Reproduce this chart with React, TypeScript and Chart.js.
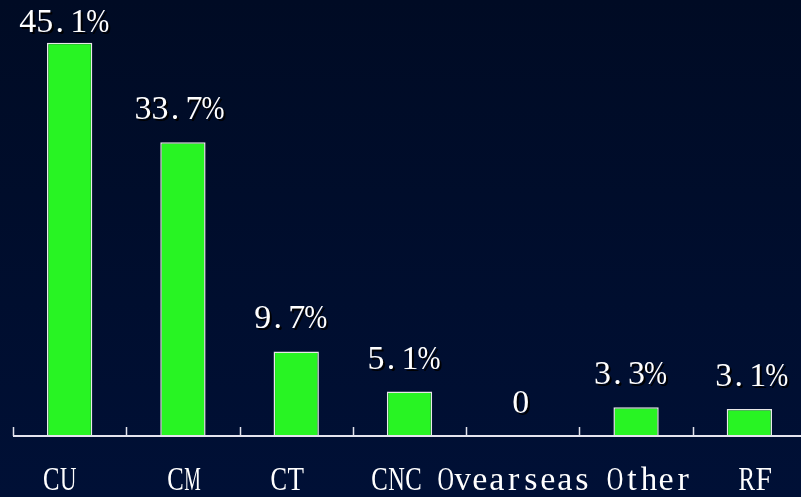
import React, { useEffect, useRef } from "react";
import { Chart, registerables } from "chart.js";

Chart.register(...registerables);

const categories = ["CU", "CM", "CT", "CNC", "Ovearseas", "Other", "RF"];
const shares = [45.1, 33.7, 9.7, 5.1, 0, 3.3, 3.1];
const valueLabels = ["45.1%", "33.7%", "9.7%", "5.1%", "0", "3.3%", "3.1%"];
const yMax = 50;

// small horizontal text nudges (px) seen in the reference's label placement
const categoryLabelNudge = [-10, 1, -9, -13, -9, 13, 6];
const valueLabelNudge = [-8, -6, -8, -8, -2, -8, 0];

const FONT = '"Liberation Serif", "DejaVu Serif", serif';
const CELL = 17;

function drawMono(ctx: CanvasRenderingContext2D, text: string, cx: number, baseline: number, maxGlyph: number) {
  const start = cx - (text.length * CELL) / 2;
  for (let j = 0; j < text.length; j++) {
    const ch = text[j];
    const w = ctx.measureText(ch).width;
    const lim = ch === "%" ? 23 : maxGlyph;
    const s = Math.min(1, lim / w);
    const dx = ch === "%" ? 2 : ch === "." ? -2 : 0;
    ctx.save();
    ctx.translate(start + CELL * j + CELL / 2 + dx, baseline);
    ctx.scale(s, 1);
    ctx.fillText(ch, 0, 0);
    ctx.restore();
  }
}

const bgPlugin = {
  id: "bgGradient",
  beforeDraw(chart: any) {
    const { ctx, width, height } = chart;
    const g = ctx.createLinearGradient(0, 0, 0, height);
    g.addColorStop(0, "#000b24");
    g.addColorStop(1, "#001036");
    ctx.save();
    ctx.fillStyle = g;
    ctx.fillRect(0, 0, width, height);
    ctx.restore();
  },
};

const axisPlugin = {
  id: "axisAndLabels",
  afterDatasetsDraw(chart: any) {
    const { ctx, chartArea } = chart;
    const xs = chart.scales.x;
    const ys = chart.scales.y;
    const y0 = ys.getPixelForValue(0);
    const n = categories.length;
    const step = (chartArea.right - chartArea.left) / n;

    ctx.save();
    // axis line
    ctx.strokeStyle = "#e4e4ee";
    ctx.lineWidth = 2;
    ctx.beginPath();
    ctx.moveTo(chartArea.left, y0);
    ctx.lineTo(chartArea.right, y0);
    ctx.stroke();
    // tick marks (upward, at category boundaries)
    ctx.lineWidth = 1.5;
    for (let i = 0; i < n; i++) {
      const x = Math.round(xs.getPixelForValue(i) - step / 2) + 0.5;
      ctx.beginPath();
      ctx.moveTo(x, y0);
      ctx.lineTo(x, y0 - 9);
      ctx.stroke();
    }

    // category labels (monospaced cells)
    ctx.fillStyle = "#ffffff";
    ctx.font = `34px ${FONT}`;
    ctx.textAlign = "center";
    ctx.textBaseline = "alphabetic";
    categories.forEach((label, i) => {
      const cx = xs.getPixelForValue(i) + categoryLabelNudge[i];
      drawMono(ctx, label, cx, y0 + 54, 16.5);
    });

    // value labels with shadow
    const meta = chart.getDatasetMeta(0);
    ctx.shadowColor = "rgba(0,0,0,0.95)";
    ctx.shadowOffsetX = 2;
    ctx.shadowOffsetY = 2;
    ctx.shadowBlur = 0;
    meta.data.forEach((bar: any, i: number) => {
      const base = Math.max(bar.y - 23, 32);
      drawMono(ctx, valueLabels[i], bar.x + valueLabelNudge[i], base, 17);
    });
    ctx.restore();
  },
};

export default function App() {
  const ref = useRef<HTMLCanvasElement | null>(null);

  useEffect(() => {
    if (!ref.current) return;
    const chart = new Chart(ref.current, {
      type: "bar",
      data: {
        labels: categories,
        datasets: [
          {
            data: shares,
            backgroundColor: "#28f423",
            borderColor: "#e8e8e8",
            borderWidth: 1.5,
            barPercentage: 0.4,
            categoryPercentage: 1,
          },
        ],
      },
      options: {
        responsive: false,
        animation: false,
        devicePixelRatio: 1,
        layout: { padding: { left: 13, right: 0, top: 0, bottom: 61 } },
        plugins: {
          legend: { display: false },
          tooltip: { enabled: false },
        },
        scales: {
          x: { display: false, offset: true },
          y: { display: false, min: 0, max: yMax },
        },
      },
      plugins: [bgPlugin, axisPlugin],
    });
    return () => chart.destroy();
  }, []);

  return (
    <div
      style={{
        position: "fixed",
        left: 0,
        top: 0,
        width: 801,
        height: 497,
        overflow: "hidden",
        background: "#000c28",
      }}
    >
      <canvas ref={ref} width={806} height={497} style={{ display: "block" }} />
    </div>
  );
}
